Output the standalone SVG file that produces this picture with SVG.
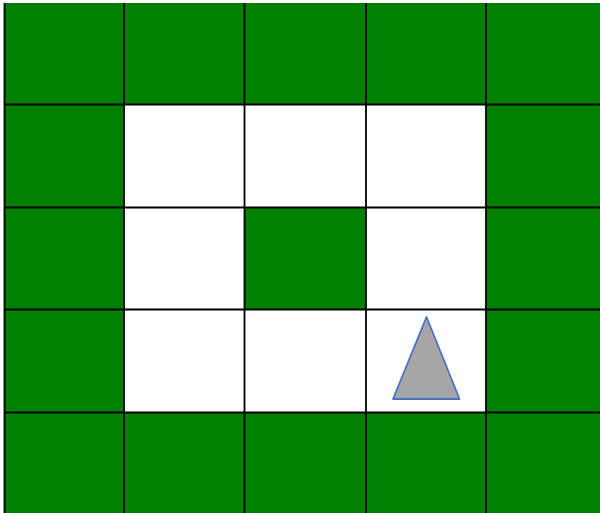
<svg xmlns="http://www.w3.org/2000/svg" width="600" height="513" viewBox="0 0 600 513">
  <style>
    .g { fill: #008000; }
    .w { fill: #ffffff; }
    .grid { stroke: #000000; stroke-width: 1.8; fill: none; }
    .tri { fill: #a6a6a6; stroke: #4a72c4; stroke-width: 1.8; stroke-linejoin: round; }
  </style>
  <rect x="0" y="0" width="600" height="513" fill="#ffffff"/>
  <g id="board">
    <rect class="g" x="4" y="3" width="596" height="510"/>
    <rect class="w" x="124" y="104.5" width="362" height="308"/>
    <rect class="g" x="244.5" y="207.5" width="121.5" height="102"/>
  </g>
  <g id="grid" class="grid">
    <line x1="4.5" y1="3" x2="4.5" y2="513"/>
    <line x1="124" y1="3" x2="124" y2="513"/>
    <line x1="244.5" y1="3" x2="244.5" y2="513"/>
    <line x1="366" y1="3" x2="366" y2="513"/>
    <line x1="486" y1="3" x2="486" y2="513"/>
    <line x1="4" y1="104.5" x2="600" y2="104.5"/>
    <line x1="4" y1="207.5" x2="600" y2="207.5"/>
    <line x1="4" y1="309.5" x2="600" y2="309.5"/>
    <line x1="4" y1="412.5" x2="600" y2="412.5"/>
  </g>
  <g id="agent">
    <polygon class="tri" points="426.5,317 393,399 459.5,399"/>
  </g>
</svg>
